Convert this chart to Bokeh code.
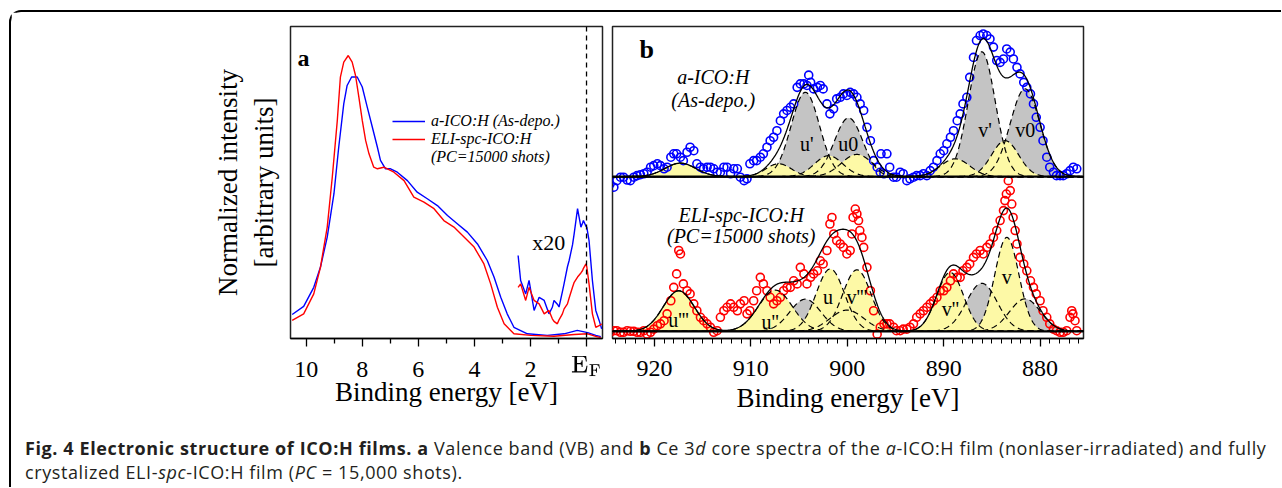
import numpy as np
from bokeh.plotting import figure
from bokeh.models import Range1d, Span, Legend, LegendItem, Label, Div, FixedTicker, TeX
from bokeh.layouts import row, column
from bokeh.embed import file_html
from bokeh.resources import INLINE
from bokeh.core.properties import value

SERIF = "Liberation Serif"

# ---------------- Panel a: valence band ----------------
vb_blue_e = [10.5, 10.09, 9.73, 9.49, 9.25, 9.01, 8.84, 8.66, 8.54, 8.38, 8.18, 8.0, 7.82, 7.64, 7.46,
             7.35, 7.17, 6.99, 6.75, 6.39, 6.04, 5.68, 5.32, 4.96, 4.61, 4.25, 3.89, 3.54, 3.30, 3.06,
             2.83, 2.59, 2.11, 1.40, 0.80, 0.33, -0.04, -0.33, -0.51]
vb_blue_i = [0.077, 0.103, 0.164, 0.229, 0.325, 0.464, 0.613, 0.752, 0.811, 0.838, 0.838, 0.806, 0.741,
             0.677, 0.613, 0.571, 0.544, 0.544, 0.533, 0.506, 0.469, 0.448, 0.426, 0.394, 0.368, 0.341,
             0.303, 0.250, 0.197, 0.132, 0.079, 0.036, 0.015, 0.010, 0.015, 0.026, 0.019, 0.010, 0.006]
vb_red_e = [10.5, 10.09, 9.73, 9.49, 9.25, 9.07, 8.89, 8.78, 8.66, 8.5, 8.36, 8.24, 8.12, 8.0, 7.88,
            7.76, 7.59, 7.46, 7.23, 6.87, 6.51, 6.16, 5.80, 5.44, 5.09, 4.73, 4.37, 4.01, 3.66, 3.42,
            3.18, 2.94, 2.59, 1.99, 1.16, 0.44, -0.04, -0.33, -0.51]
vb_red_i = [0.058, 0.079, 0.143, 0.229, 0.357, 0.517, 0.699, 0.838, 0.886, 0.907, 0.886, 0.843, 0.773,
            0.699, 0.635, 0.592, 0.549, 0.544, 0.549, 0.533, 0.506, 0.453, 0.437, 0.416, 0.378, 0.357,
            0.325, 0.293, 0.239, 0.175, 0.100, 0.047, 0.015, 0.010, 0.007, 0.013, 0.015, 0.007, 0.003]
# x20 magnified region near E_F
x20_e = [2.44, 2.35, 2.17, 2.05, 1.87, 1.69, 1.51, 1.34, 1.22, 1.16, 1.04, 0.98, 0.86, 0.80, 0.68, 0.62,
         0.50, 0.44, 0.32, 0.20, 0.14, 0.11, 0.02, -0.01, -0.09, -0.21, -0.33, -0.45, -0.54]
x20_blue_i = [0.266, 0.186, 0.143, 0.186, 0.090, 0.132, 0.122, 0.079, 0.100, 0.122, 0.110, 0.101, 0.150,
              0.176, 0.230, 0.250, 0.300, 0.336, 0.416, 0.357, 0.370, 0.378, 0.360, 0.357, 0.314, 0.186,
              0.090, 0.058, 0.031]
x20_red_i = [0.164, 0.175, 0.122, 0.164, 0.122, 0.111, 0.079, 0.090, 0.063, 0.055, 0.047, 0.060, 0.079,
             0.095, 0.111, 0.130, 0.164, 0.180, 0.197, 0.210, 0.218, 0.225, 0.239, 0.230, 0.175, 0.079,
             0.036, 0.041, 0.047]

# ---------------- Panel b: Ce 3d core spectra (intensity above each baseline) ----------------
ce_blue_e = [924.6, 923.9, 923.2, 922.5, 921.8, 921.1, 920.4, 919.7, 919.0, 918.3, 917.7, 917.0, 916.3,
             915.6, 914.9, 914.2, 913.5, 912.8, 912.1, 911.4, 910.7, 910.1, 909.4, 908.7, 908.0, 907.3,
             906.6, 905.9, 905.2, 904.5, 904.0, 903.8, 903.1, 902.5, 901.8, 901.1, 900.4, 899.7, 899.0,
             898.3, 897.6, 896.9, 896.5, 896.2, 895.6, 894.9, 894.2, 893.5, 892.8, 892.1, 891.4, 890.7,
             890.0, 889.3, 888.6, 888.0, 887.3, 886.6, 885.9, 885.2, 884.5, 883.8, 883.1, 882.4, 881.7,
             881.0, 880.4, 879.7, 879.0, 878.3, 877.6, 876.9, 876.2]
ce_blue_i = [-0.024, -0.013, -0.002, -0.013, 0.003, 0.009, 0.030, 0.041, 0.025, 0.062, 0.073, 0.051, 0.094,
             0.041, 0.025, 0.030, 0.014, 0.030, 0.009, 0.025, -0.013, 0.041, 0.051, 0.073, 0.115, 0.147,
             0.201, 0.222, 0.286, 0.297, 0.325, 0.302, 0.286, 0.281, 0.201, 0.249, 0.265, 0.270, 0.254,
             0.212, 0.115, 0.030, 0.073, 0.009, 0.030, -0.002, 0.009, -0.007, 0.003, 0.009, 0.019, 0.051,
             0.083, 0.126, 0.179, 0.233, 0.318, 0.436, 0.457, 0.441, 0.372, 0.377, 0.399, 0.350, 0.302,
             0.265, 0.190, 0.115, 0.030, 0.003, 0.003, 0.019, 0.025]
ce_blue_e2 = [924.21, 923.52, 922.83, 922.14, 921.45, 920.76, 920.07, 919.38, 918.69, 918.00, 917.31,
              916.62, 915.92, 915.23, 914.54, 913.85, 913.16, 912.47, 911.78, 911.09, 910.40, 909.71,
              909.02, 908.33, 907.64, 906.94, 906.25, 905.56, 904.87, 904.18, 903.49, 902.80, 902.11,
              901.42, 900.73, 900.04, 899.35, 898.66, 897.96, 897.27, 896.58, 895.89, 895.20, 894.51,
              893.82, 893.13, 892.44, 891.75, 891.06, 890.36, 889.67, 888.98, 888.29, 887.60, 886.91,
              886.22, 885.53, 884.84, 884.15, 883.46, 882.77, 882.08, 881.38, 880.69, 880.00, 879.31,
              878.62, 877.93, 877.24, 876.55]
ce_blue_i2 = [-0.034, -0.002, -0.011, -0.002, 0.006, 0.014, 0.035, 0.035, 0.030, 0.073, 0.062, 0.078,
              0.083, 0.030, 0.030, 0.025, 0.014, 0.030, 0.025, -0.002, -0.007, 0.051, 0.062, 0.094,
              0.126, 0.179, 0.212, 0.233, 0.297, 0.292, 0.281, 0.292, 0.233, 0.217, 0.254, 0.260,
              0.265, 0.233, 0.158, 0.051, 0.014, 0.073, -0.002, 0.014, -0.013, -0.002, 0.003, 0.003,
              0.030, 0.073, 0.105, 0.147, 0.201, 0.254, 0.382, 0.452, 0.452, 0.415, 0.366, 0.409,
              0.377, 0.329, 0.286, 0.233, 0.158, 0.062, 0.014, 0.003, 0.009, 0.030]
ce_red_e = [924.6, 923.9, 923.2, 922.5, 921.8, 921.1, 920.4, 919.7, 919.0, 918.3, 917.7, 917.3, 917.0,
            916.3, 915.6, 914.9, 914.2, 913.5, 912.8, 912.1, 911.4, 910.7, 910.1, 909.4, 908.7, 908.0,
            907.3, 906.6, 905.9, 905.2, 904.5, 903.8, 903.1, 902.5, 901.8, 901.4, 901.1, 900.4, 899.7,
            899.4, 899.0, 898.7, 898.3, 897.6, 896.9, 896.2, 895.6, 894.9, 894.2, 893.5, 892.8, 892.1,
            891.4, 890.7, 890.0, 889.3, 888.6, 888.0, 887.3, 886.6, 885.9, 885.2, 884.5, 883.8, 883.5,
            883.3, 883.1, 882.8, 882.4, 881.7, 881.0, 880.4, 879.7, 879.0, 878.3, 877.6, 876.9, 876.6,
            876.2]
ce_red_i = [-0.003, 0.002, -0.003, 0.000, -0.003, 0.002, -0.003, 0.018, 0.034, 0.098, 0.184, 0.248, 0.152,
            0.120, 0.066, 0.034, 0.013, 0.002, 0.066, 0.088, 0.066, 0.098, 0.066, 0.130, 0.152, 0.109,
            0.098, 0.130, 0.141, 0.152, 0.184, 0.173, 0.194, 0.216, 0.344, 0.312, 0.291, 0.269, 0.259,
            0.365, 0.376, 0.323, 0.269, 0.130, -0.009, 0.024, 0.024, 0.002, 0.007, 0.013, 0.045, 0.066,
            0.088, 0.109, 0.130, 0.162, 0.173, 0.194, 0.216, 0.248, 0.248, 0.280, 0.323, 0.387, 0.440,
            0.483, 0.451, 0.365, 0.280, 0.216, 0.162, 0.120, 0.066, 0.024, 0.002, -0.003, 0.045, 0.056,
            0.002]
ce_red_e2 = [924.21, 923.52, 922.83, 922.14, 921.45, 920.76, 920.07, 919.38, 918.69, 918.00, 917.48,
             916.62, 915.92, 915.23, 914.54, 913.85, 913.16, 912.47, 911.78, 911.09, 910.40, 909.71,
             909.02, 908.33, 907.64, 906.94, 906.25, 905.56, 904.87, 904.18, 903.49, 902.80, 902.11,
             901.59, 900.73, 900.04, 899.52, 899.17, 898.83, 898.48, 897.96, 897.27, 896.58, 895.89,
             895.20, 894.51, 893.82, 893.13, 892.44, 891.75, 891.06, 890.36, 889.67, 888.98, 888.29,
             887.60, 886.91, 886.22, 885.53, 884.84, 884.15, 883.65, 882.94, 882.59, 882.08, 881.38,
             880.69, 880.00, 879.31, 878.62, 877.93, 877.24, 876.72, 876.38]
ce_red_i2 = [0.002, -0.003, 0.002, 0.000, -0.003, -0.009, 0.007, 0.024, 0.056, 0.141, 0.259,
             0.130, 0.088, 0.045, 0.024, -0.003, 0.045, 0.077, 0.077, 0.088, 0.056, 0.098,
             0.173, 0.130, 0.088, 0.109, 0.141, 0.162, 0.205, 0.152, 0.184, 0.226, 0.259,
             0.365, 0.280, 0.248, 0.312, 0.392, 0.355, 0.301, 0.205, 0.066, 0.013, 0.024,
             0.013, 0.002, 0.007, 0.024, 0.056, 0.077, 0.098, 0.130, 0.141, 0.184, 0.173,
             0.205, 0.237, 0.259, 0.269, 0.301, 0.355, 0.419, 0.408, 0.323, 0.237, 0.194,
             0.141, 0.098, 0.045, 0.007, -0.003, 0.002, 0.066, 0.034]

# fit components: centre [eV], height, sigma [eV]
blue_gray_c = [904.35, 899.86, 886.05, 881.56]
blue_gray_h = [0.270, 0.188, 0.400, 0.281]
blue_gray_s = [1.47, 1.47, 1.39, 1.54]
blue_yel_c = [917.31, 907.12, 901.93, 899.00, 888.81, 883.63]
blue_yel_h = [0.043, 0.041, 0.067, 0.071, 0.057, 0.115]
blue_yel_s = [1.60, 1.32, 1.47, 1.61, 1.50, 1.40]

red_gray_c = [904.35, 900.03, 886.05, 881.56]
red_gray_h = [0.103, 0.068, 0.154, 0.104]
red_gray_s = [1.61, 1.76, 1.61, 1.61]
red_yel_c = [917.48, 907.46, 901.76, 899.00, 889.33, 883.45]
red_yel_h = [0.130, 0.132, 0.200, 0.197, 0.189, 0.301]
red_yel_s = [1.61, 1.76, 1.47, 1.47, 1.39, 1.25]

blue_peak_names = ["u'", "u0", "v'", "v0"]
red_peak_names = ["u'''", "u''", "u", "v'''", "v''", "v"]

# layout / style constants
BLUE_OFF = 0.519
RED_OFF = 0.023
BLUE = "#0000ff"
RED = "#ff0000"
GRAY = "#c4c4c4"
YEL = "#fdf9a6"

# ================= figure a =================
fa = figure(width=596, height=398, frame_width=312, frame_height=312,
            min_border_left=279, min_border_right=5, min_border_top=14, min_border_bottom=72,
            x_range=Range1d(10.56, -0.57), y_range=Range1d(0, 1),
            output_backend="svg", toolbar_location=None)
fa.grid.visible = False
fa.outline_line_color = "#222222"
fa.outline_line_width = 1.5
fa.background_fill_color = "white"
fa.border_fill_color = "white"

rb = fa.line(vb_blue_e, vb_blue_i, line_color=BLUE, line_width=1.4)
rr = fa.line(vb_red_e, vb_red_i, line_color=RED, line_width=1.4)
fa.line(x20_e, x20_blue_i, line_color=BLUE, line_width=1.4)
fa.line(x20_e, x20_red_i, line_color=RED, line_width=1.4)
rdummy = fa.line(x=[], y=[], line_alpha=0)
fa.add_layout(Span(location=0, dimension="height", line_color="black", line_dash="5 4", line_width=1.3))

leg = Legend(items=[LegendItem(label="a-ICO:H (As-depo.)", renderers=[rb]),
                    LegendItem(label="ELI-spc-ICO:H", renderers=[rr]),
                    LegendItem(label="(PC=15000 shots)", renderers=[rdummy])],
             location=(102, 172), border_line_alpha=0, background_fill_alpha=0,
             label_text_font=SERIF, label_text_font_style="italic", label_text_font_size="16px",
             label_text_color="black",
             glyph_width=33, glyph_height=18, label_height=18, spacing=0, padding=0, margin=0,
             label_standoff=6)
fa.add_layout(leg)

fa.add_layout(Label(x=10.1, y=0.90, text="a", text_font=SERIF, text_font_style="bold",
                    text_font_size="24px", text_baseline="middle", text_align="center",
                    text_color="black"))
fa.add_layout(Label(x=1.35, y=0.308, text="x20", text_font=SERIF, text_font_size="22px",
                    text_baseline="middle", text_align="center", text_color="black"))

fa.xaxis.ticker = FixedTicker(ticks=[10, 8, 6, 4, 2, 0], minor_ticks=[9, 7, 5, 3, 1])
fa.xaxis.major_label_overrides = {0: TeX(text=r"\mathrm{E_F}")}
fa.xaxis.axis_label = "Binding energy [eV]"
fa.yaxis.ticker = FixedTicker(ticks=[])
fa.yaxis.axis_label = "Normalized intensity\n[arbitrary units]"
fa.yaxis.axis_line_color = None
fa.yaxis.axis_label_standoff = 12
for ax in [fa.xaxis[0], fa.yaxis[0]]:
    ax.major_label_text_font = SERIF
    ax.major_label_text_font_size = "24px"
    ax.major_label_text_color = "black"
    ax.axis_label_text_font = SERIF
    ax.axis_label_text_font_size = "27px"
    ax.axis_label_text_font_style = "normal"
    ax.axis_label_text_color = "black"
fa.xaxis.major_tick_out = 8
fa.xaxis.major_tick_in = 0
fa.xaxis.minor_tick_out = 5
fa.xaxis.minor_tick_in = 0
fa.xaxis.major_label_standoff = 9
fa.xaxis.axis_label_standoff = -8
fa.xaxis.axis_line_width = 1.5
fa.xaxis.major_tick_line_width = 1.3
fa.xaxis.minor_tick_line_width = 1.3

# ================= figure b =================
fb = figure(width=674, height=398, frame_width=471, frame_height=312,
            min_border_left=5, min_border_right=198, min_border_top=14, min_border_bottom=72,
            x_range=Range1d(924.35, 875.5), y_range=Range1d(0, 1),
            output_backend="svg", toolbar_location=None)
fb.grid.visible = False
fb.outline_line_color = "#222222"
fb.outline_line_width = 1.5
fb.yaxis.visible = False

grid = np.linspace(875.5, 924.35, 900)


def gauss(c, h, s):
    return h * np.exp(-0.5 * ((grid - c) / s) ** 2)


def draw_fit(off, gc, gh, gs, yc, yh, ys):
    comps_g = [gauss(c, h, s) for c, h, s in zip(gc, gh, gs)]
    comps_y = [gauss(c, h, s) for c, h, s in zip(yc, yh, ys)]
    for g in comps_g:
        fb.varea(x=grid, y1=off, y2=off + g, fill_color=GRAY)
    for g in comps_y:
        fb.varea(x=grid, y1=off, y2=off + g, fill_color=YEL)
    return comps_g + comps_y


blue_comps = draw_fit(BLUE_OFF, blue_gray_c, blue_gray_h, blue_gray_s, blue_yel_c, blue_yel_h, blue_yel_s)
red_comps = draw_fit(RED_OFF, red_gray_c, red_gray_h, red_gray_s, red_yel_c, red_yel_h, red_yel_s)

for xs, ys, off, col in [(ce_blue_e, ce_blue_i, BLUE_OFF, BLUE), (ce_blue_e2, ce_blue_i2, BLUE_OFF, BLUE),
                         (ce_red_e, ce_red_i, RED_OFF, RED), (ce_red_e2, ce_red_i2, RED_OFF, RED)]:
    fb.scatter(xs, [v + off for v in ys], marker="circle", size=8,
               fill_alpha=0, line_color=col, line_width=1.6)

for off, comps in [(BLUE_OFF, blue_comps), (RED_OFF, red_comps)]:
    for g in comps:
        fb.line(grid, off + g, line_color="black", line_dash="6 4", line_width=1.2)
    fb.line(grid, off + np.sum(comps, axis=0), line_color="black", line_width=1.3)
    fb.add_layout(Span(location=off, dimension="width", line_color="black", line_width=2.2))

blue_lab_x = [904.2, 899.9, 885.7, 881.55]
blue_lab_y = [0.624, 0.625, 0.667, 0.667]
red_lab_x = [917.5, 908.0, 902.0, 899.0, 889.3, 883.45]
red_lab_y = [0.058, 0.052, 0.132, 0.132, 0.096, 0.196]
fb.text(x=blue_lab_x + red_lab_x, y=blue_lab_y + red_lab_y, text=blue_peak_names + red_peak_names,
        text_font=value(SERIF), text_font_size="20px", text_align="center", text_baseline="middle",
        text_color="black")

fb.text(x=[913.9, 913.9, 911.0, 911.0], y=[0.837, 0.763, 0.397, 0.327],
        text=["a-ICO:H", "(As-depo.)", "ELI-spc-ICO:H", "(PC=15000 shots)"],
        text_font=value(SERIF), text_font_style="italic", text_font_size="20px",
        text_align="center", text_baseline="middle", text_color="black")
fb.add_layout(Label(x=920.8, y=0.925, text="b", text_font=SERIF, text_font_style="bold",
                    text_font_size="26px", text_baseline="middle", text_align="center",
                    text_color="black"))

fb.xaxis.ticker = FixedTicker(ticks=[920, 910, 900, 890, 880], minor_ticks=list(range(876, 925)))
fb.xaxis.axis_label = "Binding energy [eV]"
ax = fb.xaxis[0]
ax.major_label_text_font = SERIF
ax.major_label_text_font_size = "24px"
ax.major_label_text_color = "black"
ax.axis_label_text_font = SERIF
ax.axis_label_text_font_size = "27px"
ax.axis_label_text_font_style = "normal"
ax.axis_label_text_color = "black"
ax.major_tick_out = 8
ax.major_tick_in = 0
ax.minor_tick_out = 5
ax.minor_tick_in = 0
ax.major_label_standoff = 14
ax.axis_label_standoff = 4
ax.axis_line_width = 1.5
ax.major_tick_line_width = 1.3
ax.minor_tick_line_width = 1.0

caption_html = (
    '<div style="font-family:\'Open Sans\';font-size:18px;letter-spacing:0.6px;line-height:24px;'
    'color:#231f20;padding-left:9px;padding-top:16px;white-space:nowrap;">'
    '<b>Fig. 4 Electronic structure of ICO:H films.</b> <b>a</b> Valence band (VB) and <b>b</b> '
    'Ce 3<i>d</i> core spectra of the <i>a</i>-ICO:H film (nonlaser-irradiated) and fully<br>'
    'crystalized ELI-<i>spc</i>-ICO:H film (<i>PC</i> = 15,000 shots).</div>'
)
cap = Div(text=caption_html, width=1260, height=62)

lay = column(row(fa, fb), cap, margin=(10, 0, 0, 9),
             styles={"border-left": "2px solid black", "border-top": "2px solid black",
                     "border-top-left-radius": "12px"})

open("out.html", "w").write(file_html(lay, INLINE))
